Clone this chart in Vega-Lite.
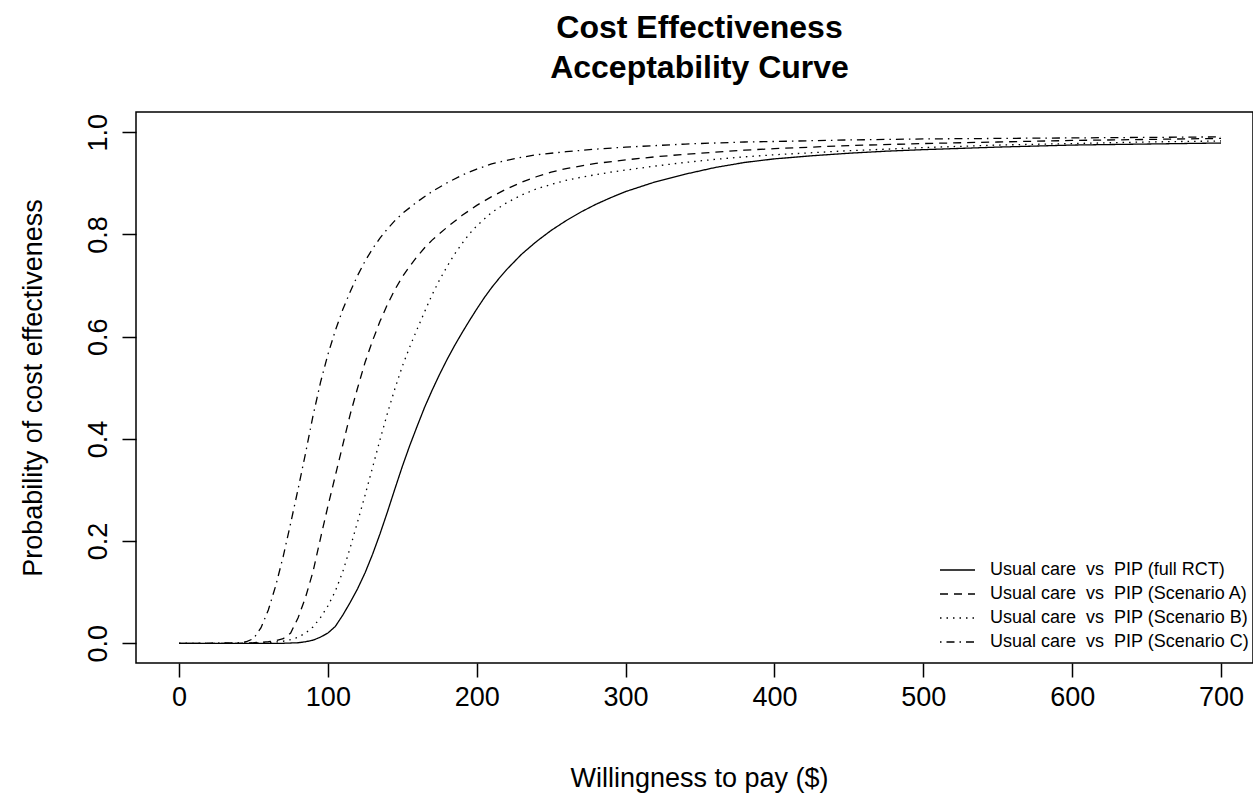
{
  "$schema": "https://vega.github.io/schema/vega-lite/v6.json",
  "autosize": {"type": "none"},
  "padding": {"left": 136, "top": 112, "right": 0, "bottom": 130},
  "width": 1117,
  "height": 551,
  "background": "white",
  "config": {
    "font": "Liberation Sans",
    "view": {"stroke": "#000", "strokeWidth": 1.5}
  },
  "title": {
    "text": ["Cost Effectiveness", "Acceptability Curve"],
    "font": "Liberation Sans",
    "fontSize": 32,
    "fontWeight": "bold",
    "color": "#000",
    "lineHeight": 40,
    "anchor": "middle",
    "frame": "group",
    "offset": 27,
    "dx": 5
  },
  "data": {
    "values": [
      {"s":"RCT","x":0,"p":0},{"s":"RCT","x":20,"p":0},{"s":"RCT","x":40,"p":0},{"s":"RCT","x":60,"p":0},{"s":"RCT","x":70,"p":0},{"s":"RCT","x":80,"p":0.001},{"s":"RCT","x":85,"p":0.003},{"s":"RCT","x":90,"p":0.006},{"s":"RCT","x":95,"p":0.012},{"s":"RCT","x":100,"p":0.02},{"s":"RCT","x":105,"p":0.033},{"s":"RCT","x":110,"p":0.055},{"s":"RCT","x":115,"p":0.08},{"s":"RCT","x":120,"p":0.107},{"s":"RCT","x":125,"p":0.138},{"s":"RCT","x":130,"p":0.174},{"s":"RCT","x":135,"p":0.214},{"s":"RCT","x":140,"p":0.257},{"s":"RCT","x":145,"p":0.302},{"s":"RCT","x":150,"p":0.346},{"s":"RCT","x":155,"p":0.387},{"s":"RCT","x":160,"p":0.425},{"s":"RCT","x":165,"p":0.462},{"s":"RCT","x":170,"p":0.495},{"s":"RCT","x":175,"p":0.526},{"s":"RCT","x":180,"p":0.555},{"s":"RCT","x":185,"p":0.582},{"s":"RCT","x":190,"p":0.607},{"s":"RCT","x":195,"p":0.631},{"s":"RCT","x":200,"p":0.654},{"s":"RCT","x":205,"p":0.676},{"s":"RCT","x":210,"p":0.696},{"s":"RCT","x":215,"p":0.714},{"s":"RCT","x":220,"p":0.731},{"s":"RCT","x":230,"p":0.761},{"s":"RCT","x":240,"p":0.786},{"s":"RCT","x":250,"p":0.808},{"s":"RCT","x":260,"p":0.827},{"s":"RCT","x":270,"p":0.844},{"s":"RCT","x":280,"p":0.859},{"s":"RCT","x":290,"p":0.872},{"s":"RCT","x":300,"p":0.884},{"s":"RCT","x":320,"p":0.903},{"s":"RCT","x":340,"p":0.918},{"s":"RCT","x":360,"p":0.931},{"s":"RCT","x":380,"p":0.941},{"s":"RCT","x":400,"p":0.948},{"s":"RCT","x":425,"p":0.954},{"s":"RCT","x":450,"p":0.959},{"s":"RCT","x":475,"p":0.963},{"s":"RCT","x":500,"p":0.966},{"s":"RCT","x":550,"p":0.971},{"s":"RCT","x":600,"p":0.975},{"s":"RCT","x":650,"p":0.977},{"s":"RCT","x":700,"p":0.979},
      {"s":"A","x":0,"p":0},{"s":"A","x":20,"p":0},{"s":"A","x":40,"p":0},{"s":"A","x":50,"p":0.001},{"s":"A","x":55,"p":0.002},{"s":"A","x":60,"p":0.003},{"s":"A","x":65,"p":0.005},{"s":"A","x":70,"p":0.009},{"s":"A","x":75,"p":0.02},{"s":"A","x":80,"p":0.05},{"s":"A","x":85,"p":0.09},{"s":"A","x":90,"p":0.14},{"s":"A","x":95,"p":0.205},{"s":"A","x":100,"p":0.268},{"s":"A","x":105,"p":0.328},{"s":"A","x":110,"p":0.388},{"s":"A","x":115,"p":0.448},{"s":"A","x":120,"p":0.5},{"s":"A","x":125,"p":0.55},{"s":"A","x":130,"p":0.592},{"s":"A","x":135,"p":0.63},{"s":"A","x":140,"p":0.663},{"s":"A","x":145,"p":0.692},{"s":"A","x":150,"p":0.717},{"s":"A","x":155,"p":0.738},{"s":"A","x":160,"p":0.757},{"s":"A","x":165,"p":0.774},{"s":"A","x":170,"p":0.789},{"s":"A","x":180,"p":0.814},{"s":"A","x":190,"p":0.837},{"s":"A","x":200,"p":0.857},{"s":"A","x":210,"p":0.874},{"s":"A","x":220,"p":0.889},{"s":"A","x":230,"p":0.902},{"s":"A","x":240,"p":0.913},{"s":"A","x":250,"p":0.922},{"s":"A","x":260,"p":0.929},{"s":"A","x":280,"p":0.939},{"s":"A","x":300,"p":0.946},{"s":"A","x":320,"p":0.952},{"s":"A","x":340,"p":0.957},{"s":"A","x":360,"p":0.961},{"s":"A","x":380,"p":0.965},{"s":"A","x":400,"p":0.968},{"s":"A","x":450,"p":0.974},{"s":"A","x":500,"p":0.978},{"s":"A","x":550,"p":0.981},{"s":"A","x":600,"p":0.984},{"s":"A","x":650,"p":0.986},{"s":"A","x":700,"p":0.988},
      {"s":"B","x":0,"p":0},{"s":"B","x":20,"p":0},{"s":"B","x":40,"p":0},{"s":"B","x":60,"p":0.001},{"s":"B","x":70,"p":0.004},{"s":"B","x":75,"p":0.007},{"s":"B","x":80,"p":0.012},{"s":"B","x":85,"p":0.02},{"s":"B","x":90,"p":0.032},{"s":"B","x":95,"p":0.05},{"s":"B","x":100,"p":0.073},{"s":"B","x":105,"p":0.102},{"s":"B","x":110,"p":0.14},{"s":"B","x":115,"p":0.187},{"s":"B","x":120,"p":0.238},{"s":"B","x":125,"p":0.29},{"s":"B","x":130,"p":0.344},{"s":"B","x":135,"p":0.398},{"s":"B","x":140,"p":0.45},{"s":"B","x":145,"p":0.498},{"s":"B","x":150,"p":0.542},{"s":"B","x":155,"p":0.58},{"s":"B","x":160,"p":0.615},{"s":"B","x":165,"p":0.649},{"s":"B","x":170,"p":0.682},{"s":"B","x":175,"p":0.711},{"s":"B","x":180,"p":0.737},{"s":"B","x":185,"p":0.761},{"s":"B","x":190,"p":0.782},{"s":"B","x":195,"p":0.801},{"s":"B","x":200,"p":0.817},{"s":"B","x":210,"p":0.843},{"s":"B","x":220,"p":0.862},{"s":"B","x":230,"p":0.877},{"s":"B","x":240,"p":0.889},{"s":"B","x":250,"p":0.898},{"s":"B","x":260,"p":0.906},{"s":"B","x":270,"p":0.912},{"s":"B","x":280,"p":0.917},{"s":"B","x":290,"p":0.922},{"s":"B","x":300,"p":0.926},{"s":"B","x":320,"p":0.934},{"s":"B","x":340,"p":0.941},{"s":"B","x":360,"p":0.947},{"s":"B","x":380,"p":0.952},{"s":"B","x":400,"p":0.956},{"s":"B","x":450,"p":0.964},{"s":"B","x":500,"p":0.97},{"s":"B","x":550,"p":0.975},{"s":"B","x":600,"p":0.978},{"s":"B","x":650,"p":0.981},{"s":"B","x":700,"p":0.983},
      {"s":"C","x":0,"p":0},{"s":"C","x":20,"p":0},{"s":"C","x":40,"p":0.001},{"s":"C","x":45,"p":0.003},{"s":"C","x":50,"p":0.009},{"s":"C","x":55,"p":0.03},{"s":"C","x":60,"p":0.065},{"s":"C","x":65,"p":0.113},{"s":"C","x":70,"p":0.17},{"s":"C","x":75,"p":0.235},{"s":"C","x":80,"p":0.302},{"s":"C","x":85,"p":0.372},{"s":"C","x":90,"p":0.445},{"s":"C","x":95,"p":0.51},{"s":"C","x":100,"p":0.565},{"s":"C","x":105,"p":0.612},{"s":"C","x":110,"p":0.653},{"s":"C","x":115,"p":0.688},{"s":"C","x":120,"p":0.72},{"s":"C","x":125,"p":0.748},{"s":"C","x":130,"p":0.772},{"s":"C","x":135,"p":0.793},{"s":"C","x":140,"p":0.811},{"s":"C","x":145,"p":0.827},{"s":"C","x":150,"p":0.841},{"s":"C","x":160,"p":0.864},{"s":"C","x":170,"p":0.884},{"s":"C","x":180,"p":0.901},{"s":"C","x":190,"p":0.916},{"s":"C","x":200,"p":0.928},{"s":"C","x":210,"p":0.938},{"s":"C","x":220,"p":0.945},{"s":"C","x":230,"p":0.951},{"s":"C","x":240,"p":0.956},{"s":"C","x":260,"p":0.962},{"s":"C","x":280,"p":0.967},{"s":"C","x":300,"p":0.971},{"s":"C","x":320,"p":0.974},{"s":"C","x":340,"p":0.977},{"s":"C","x":360,"p":0.979},{"s":"C","x":380,"p":0.981},{"s":"C","x":400,"p":0.982},{"s":"C","x":450,"p":0.985},{"s":"C","x":500,"p":0.987},{"s":"C","x":550,"p":0.988},{"s":"C","x":600,"p":0.989},{"s":"C","x":650,"p":0.99},{"s":"C","x":700,"p":0.991}
    ]
  },
  "mark": {"type": "line", "strokeWidth": 1.3, "color": "#000", "interpolate": "linear"},
  "encoding": {
    "x": {
      "field": "x",
      "type": "quantitative",
      "scale": {"domain": [-28.9, 721.47], "nice": false, "zero": false},
      "axis": {
        "values": [0, 100, 200, 300, 400, 500, 600, 700],
        "title": "Willingness to pay ($)",
        "titleFont": "Liberation Sans",
        "titleFontSize": 27,
        "titleFontWeight": "normal",
        "titleColor": "#000",
        "titleBaseline": "alphabetic",
        "titleAlign": "center",
        "titleX": 563,
        "titleY": 123,
        "labelFont": "Liberation Sans",
        "labelFontSize": 27,
        "labelColor": "#000",
        "labelPadding": 7,
        "labelFlush": false,
        "labelOverlap": false,
        "tickSize": 14,
        "tickWidth": 1.5,
        "tickColor": "#000",
        "domain": false,
        "grid": false
      }
    },
    "y": {
      "field": "p",
      "type": "quantitative",
      "scale": {"domain": [-0.0386, 1.0397], "nice": false, "zero": false},
      "axis": {
        "values": [0, 0.2, 0.4, 0.6, 0.8, 1.0],
        "format": ".1f",
        "title": "Probability of cost effectiveness",
        "titleFont": "Liberation Sans",
        "titleFontSize": 27,
        "titleFontWeight": "normal",
        "titleColor": "#000",
        "titleAngle": 270,
        "titleAlign": "center",
        "titleBaseline": "alphabetic",
        "titleX": -95,
        "titleY": 275.5,
        "labelFont": "Liberation Sans",
        "labelFontSize": 27,
        "labelColor": "#000",
        "labelAngle": 270,
        "labelAlign": "center",
        "labelBaseline": "alphabetic",
        "labelPadding": 16,
        "labelFlush": false,
        "labelOverlap": false,
        "tickSize": 14,
        "tickWidth": 1.5,
        "tickColor": "#000",
        "domain": false,
        "grid": false
      }
    },
    "detail": {"field": "s"},
    "strokeDash": {
      "field": "s",
      "type": "nominal",
      "scale": {
        "domain": ["RCT", "A", "B", "C"],
        "range": [[1, 0], [8, 6], [1.5, 5], [1.5, 5, 8, 5]]
      },
      "legend": {
        "orient": "none",
        "legendX": 803,
        "legendY": 446,
        "title": null,
        "padding": 0,
        "rowPadding": 0,
        "clipHeight": 24,
        "symbolType": "stroke",
        "symbolSize": 1225,
        "symbolStrokeWidth": 1.5,
        "symbolStrokeColor": "#000",
        "labelFont": "Liberation Sans",
        "labelFontSize": 18,
        "labelColor": "#000",
        "labelOffset": 14,
        "labelLimit": 400,
        "labelExpr": "{'RCT': 'Usual care\u00a0\u00a0vs\u00a0\u00a0PIP (full RCT)', 'A': 'Usual care\u00a0\u00a0vs\u00a0\u00a0PIP (Scenario A)', 'B': 'Usual care\u00a0\u00a0vs\u00a0\u00a0PIP (Scenario B)', 'C': 'Usual care\u00a0\u00a0vs\u00a0\u00a0PIP (Scenario C)'}[datum.label]"
      }
    }
  }
}
